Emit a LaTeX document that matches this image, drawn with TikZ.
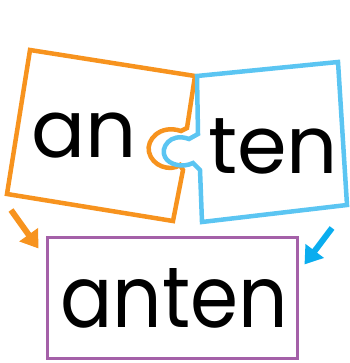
\documentclass[tikz,border=0pt]{standalone}
\usepackage{fontspec}
\setmainfont{Poppins}
\usetikzlibrary{arrows.meta, positioning}
\definecolor{pieceorange}{HTML}{F7931E}
\definecolor{pieceblue}{HTML}{5BC5F2}
\definecolor{arrowblue}{HTML}{0AADEF}
\definecolor{boxpurple}{HTML}{A460A8}

\begin{document}
\begin{tikzpicture}[x=1pt, y=-1pt,
    piece/.style={line width=4.5pt, line join=miter},
    word/.style={font=\fontsize{80}{80}\selectfont, inner sep=0pt, anchor=base},
    bigarrow/.style={line width=6pt, -{Triangle[length=17pt, width=22pt]}}
]
    \useasboundingbox (0,0) rectangle (349,363);
    % the two puzzle pieces
    \draw[piece, pieceorange] (30,50) -- (195,76) -- (187,128) -- (181,131)
        .. controls (160,124) and (146,140) .. (149,152)
        .. controls (152,166) and (170,172) .. (180,165)
        -- (183,170) -- (173,221) -- (7,194) -- cycle;
    \draw[piece, pieceblue] (197,76) -- (338,62) -- (347,205) -- (202,222)
        -- (200,170) -- (193,163)
        .. controls (183,168) and (169,165) .. (165,157)
        .. controls (160,148) and (170,132) .. (189,139)
        -- (198,134) -- cycle;
    \node[word] (an) at (84,158) {an};
    \node[word] (ten) at (273,173) {ten};
    % the joined word
    \node[draw=boxpurple, line width=3pt, minimum width=250pt, minimum height=121pt,
          inner sep=0pt] (box) at (172,297.5) {};
    \node[word, font=\fontsize{86}{86}\selectfont\addfontfeature{FakeStretch=0.9}]
        (anten) at (174,327) {anten};
    \coordinate (ostart) at (11,210);
    \coordinate (bstart) at (332,228);
    \draw[bigarrow, pieceorange] (ostart) -- ([shift={(-7,13)}]box.north west);
    \draw[bigarrow, arrowblue] (bstart) -- ([shift={(6,29)}]box.north east);
\end{tikzpicture}
\end{document}
